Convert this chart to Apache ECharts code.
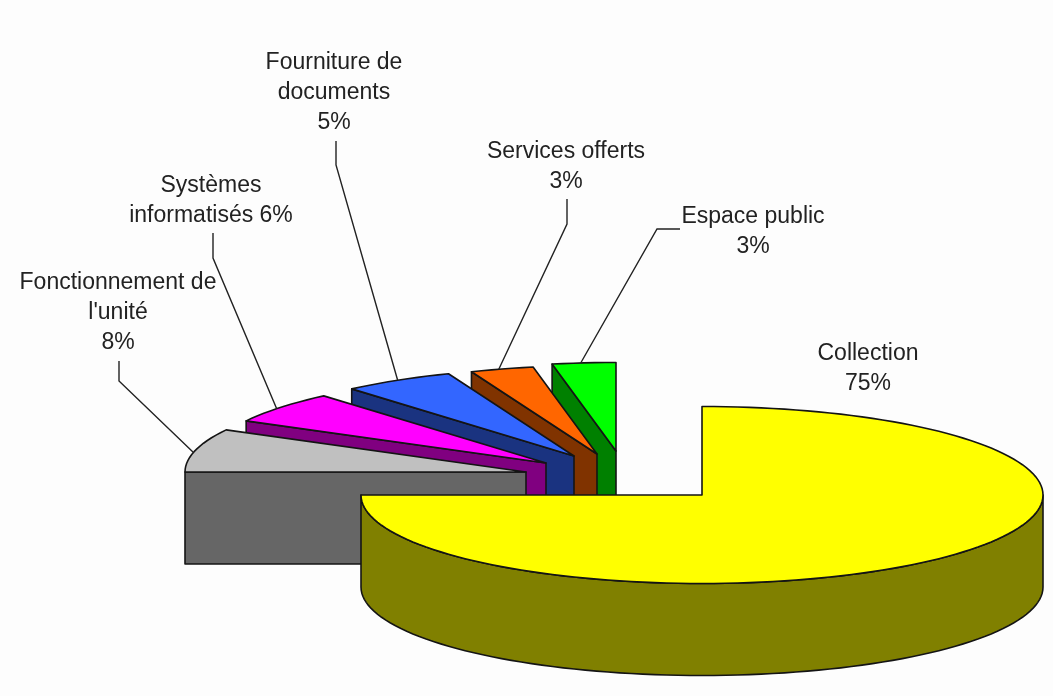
<!DOCTYPE html>
<html>
<head>
<meta charset="utf-8">
<style>
  html, body { margin: 0; padding: 0; background: #fff; }
  #main { width: 1053px; height: 696px; }
</style>
<script src="https://cdn.jsdelivr.net/npm/echarts@6/dist/echarts.min.js"></script>
</head>
<body>
<div id="main"></div>
<script>
// counter-clockwise from 12 o'clock, which is also the painting order
const categories = ['Espace public', 'Services offerts', 'Fourniture de documents', 'Systèmes informatisés', "Fonctionnement de l'unité", 'Collection']
// the labels show them rounded
const values = [3, 3, 5.3, 5.8, 7.9, 75]
const labelLines = [
  ['Espace public', '3%'],
  ['Services offerts', '3%'],
  ['Fourniture de', 'documents', '5%'],
  ['Systèmes', 'informatisés 6%'],
  ['Fonctionnement de', "l'unité", '8%'],
  ['Collection', '75%'],
]
const topColors = ['#00ff00', '#ff6600', '#3366ff', '#ff00ff', '#c0c0c0', '#ffff00']
const sideColors = ['#008000', '#803300', '#1a3380', '#800080', '#666666', '#808000']

// pie layout in pixels
const RX = 341
const RY = 88.5
const DEPTH = 92
const apexes = [[616, 451], [597, 454], [574, 456], [546, 463], [526, 472], [702, 495]]
const labelPos = [[753, 232], [566, 167], [334, 93], [211, 201], [118, 313], [868, 369]]
// leader start and elbow, the last point comes from the slice itself
const leaders = [
  [[680, 229], [657, 229]],
  [[567, 199], [567, 224]],
  [[336, 141], [336, 165]],
  [[213, 233], [213, 258]],
  [[119, 361], [119, 381]],
  null,
]
// where on the slice's rim each leader lands, 0 to 1
const leaderAt = [0.55, 0.55, 0.5, 0.55, 0.55, 0.5]

const total = values.reduce((a, b) => a + b, 0)
const ink = '#141414'

function rimPoint(apex, deg, drop) {
  const t = (deg * Math.PI) / 180
  return [apex[0] - RX * Math.sin(t), apex[1] - RY * Math.cos(t) + (drop || 0)]
}

function arc(apex, from, to, drop) {
  const pts = []
  const steps = Math.max(2, Math.ceil(Math.abs(to - from) / 2))
  for (let i = 0; i <= steps; i++) {
    pts.push(rimPoint(apex, from + ((to - from) * i) / steps, drop))
  }
  return pts
}

function face(points, fill) {
  return {
    type: 'polygon',
    shape: { points },
    style: { fill, stroke: ink, lineWidth: 1.6, lineJoin: 'round' },
  }
}

function renderSlice(params, api) {
  const i = params.dataIndex
  const apex = apexes[i]
  const before = values.slice(0, i).reduce((a, b) => a + b, 0)
  const from = (before / total) * 360
  const to = ((before + api.value(0)) / total) * 360
  const children = []

  // end wall, only seen when it faces the viewer
  if (to <= 180) {
    const corner = rimPoint(apex, to)
    children.push(
      face([corner, apex, [apex[0], apex[1] + DEPTH], [corner[0], corner[1] + DEPTH]], sideColors[i])
    )
  }
  // outer wall on the front half of the ellipse
  const a = Math.max(from, 90)
  const b = Math.min(to, 270)
  if (b > a) {
    children.push(face(arc(apex, a, b).concat(arc(apex, b, a, DEPTH)), sideColors[i]))
  }
  children.push(face([apex].concat(arc(apex, from, to)), topColors[i]))

  if (leaders[i]) {
    children.push({
      type: 'polyline',
      z2: 10,
      shape: { points: leaders[i].concat([rimPoint(apex, from + (to - from) * leaderAt[i])]) },
      style: { fill: null, stroke: '#222', lineWidth: 1.4 },
    })
  }
  children.push({
    type: 'text',
    z2: 11,
    x: labelPos[i][0],
    y: labelPos[i][1],
    style: {
      text: labelLines[i].join('\n'),
      align: 'center',
      verticalAlign: 'middle',
      lineHeight: 30,
      font: '23px "Liberation Sans", Arial, sans-serif',
      fill: '#222',
    },
  })
  return { type: 'group', children }
}

const chart = echarts.init(document.getElementById('main'), null, { renderer: 'canvas' })
chart.setOption({
  animation: false,
  backgroundColor: '#fdfdfd',
  series: [
    {
      type: 'custom',
      coordinateSystem: 'none',
      silent: true,
      renderItem: renderSlice,
      data: values.map((v, i) => ({ name: categories[i], value: [v] })),
    },
  ],
})
</script>
</body>
</html>
